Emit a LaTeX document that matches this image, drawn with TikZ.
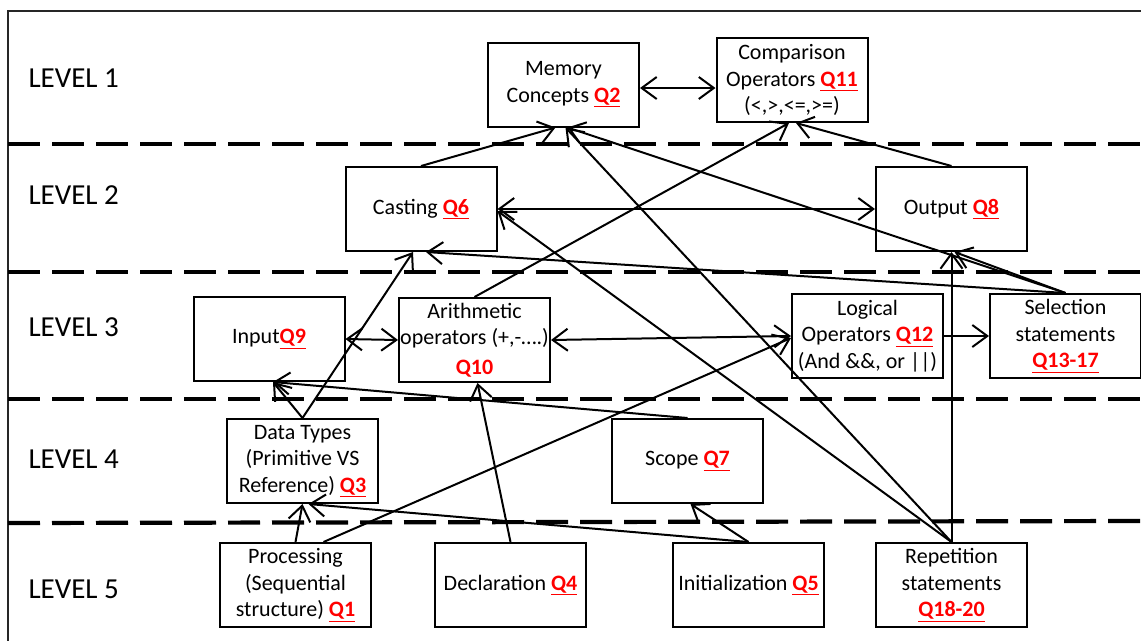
\documentclass[tikz,border=0pt]{standalone}
\usepackage{fontspec}
\setmainfont{Carlito}
\usetikzlibrary{arrows.meta}
\newcommand{\qnum}[1]{\textcolor{red}{\textbf{\underline{#1}}}}
\tikzset{
  box/.style={draw, line width=2pt, minimum width=151pt, minimum height=84pt,
    inner sep=1pt, align=center, font=\fontsize{22}{26.5}\selectfont},
  lvl/.style={anchor=west, font=\fontsize{29}{32}\selectfont},
  divider/.style={line width=4.2pt, dash pattern=on 32pt off 12pt},
  link/.style={line width=2pt, -{Straight Barb[length=15pt,width=22pt]}},
  dlink/.style={line width=2pt, {Straight Barb[length=15pt,width=22pt]}-{Straight Barb[length=15pt,width=22pt]}},
}
\begin{document}
\begin{tikzpicture}[x=1pt, y=-1pt]
            \useasboundingbox (0,0) rectangle (1141,641);
            \draw[line width=1.4pt, black!85] (1141,11) -- (8,11) -- (8,641);
            \draw[divider] (8,144) -- (1141,144);
            \draw[divider] (8,272) -- (1141,272);
            \draw[divider] (8,399) -- (1141,399);
            \draw[divider] (8,523) -- (1141,521);

            \node[lvl] (l1) at (25,78) {LEVEL 1};
            \node[lvl] (l2) at (25,195) {LEVEL 2};
            \node[lvl] (l3) at (25,327) {LEVEL 3};
            \node[lvl] (l4) at (25,459) {LEVEL 4};
            \node[lvl] (l5) at (25,589) {LEVEL 5};

            \node[box] (mem) at (563.5,84.5) {Memory\\Concepts \qnum{Q2}};
            \node[box] (cmp) at (792,80) {Comparison\\Operators \qnum{Q11}\\(<,>,<=,>=)};
            \node[box] (cast) at (421,209) {Casting \qnum{Q6}};
            \node[box] (out) at (951.5,209) {Output \qnum{Q8}};
            \node[box] (inp) at (269,339) {Input\qnum{Q9}};
            \node[box] (arith) at (474.5,340) {Arithmetic\\operators (+,-….)\\[3pt]\textcolor{red}{\textbf{Q10}}};
            \node[box] (logic) at (867.5,336) {Logical\\Operators \qnum{Q12}\\(And \&\&, or ||)};
            \node[box] (sel) at (1065.5,336) {Selection\\statements\\\qnum{Q13-17}};
            \node[box] (dtype) at (302.5,461) {Data Types\\(Primitive VS\\Reference) \qnum{Q3}};
            \node[box] (scope) at (687.5,461) {Scope \qnum{Q7}};
            \node[box] (proc) at (295.5,585) {Processing\\(Sequential\\structure) \qnum{Q1}};
            \node[box] (decl) at (510.5,585) {Declaration \qnum{Q4}};
            \node[box] (init) at (748.5,585) {Initialization \qnum{Q5}};
            \node[box] (rep) at (951.5,585) {Repetition\\statements\\\qnum{Q18-20}};

            \draw[dlink] ([yshift=-3.5pt]mem.east) -- ([yshift=-8pt]cmp.west);
            \draw[dlink] (cast.east) -- (out.west);
            \draw[dlink] (inp.east) -- (arith.west);
            \draw[dlink] (arith.east) -- (logic.west);
            \draw[link] (logic.east) -- (sel.west);
            \draw[link] (cast.north) -- ([xshift=-8pt]mem.south);
            \draw[link] (out.north) -- ([xshift=4pt]cmp.south);
            \draw[link] (arith.north) -- ([xshift=-3pt]cmp.south);
            \draw[link] (sel.north) -- ([xshift=4pt]mem.south);
            \draw[link] (sel.north) -- ([xshift=5pt]cast.south);
            \draw[link] (sel.north) -- ([xshift=3pt]out.south);
            \draw[link] (rep.north) -- ([xshift=2pt]mem.south);
            \draw[link] (rep.north) -- (out.south);
            \draw[link] (rep.north) -- ([yshift=-2pt]cast.east);
            \draw[link] (dtype.north) -- ([xshift=-8pt]cast.south);
            \draw[link] (dtype.north) -- ([xshift=4pt]inp.south);
            \draw[link] (scope.north) -- ([xshift=4pt]inp.south);
            \draw[link] (decl.north) -- ([xshift=3pt]arith.south);
            \draw[link] (proc.north) -- (dtype.south);
            \draw[link] ([xshift=28pt]proc.north) -- ([yshift=-2pt]logic.west);
            \draw[link] (init.north) -- ([xshift=6pt]dtype.south);
            \draw[link] (init.north) -- ([xshift=3pt]scope.south);
\end{tikzpicture}
\end{document}
